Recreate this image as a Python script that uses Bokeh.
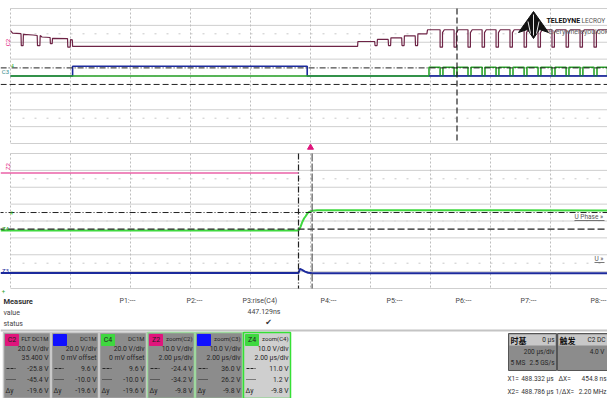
import math
from bokeh.plotting import figure
from bokeh.models import Range1d
from bokeh.core.properties import value
from bokeh.embed import file_html
from bokeh.resources import INLINE

# ---------------- data ----------------
# Main acquisition: 200 us/div, 0 us at screen centre
c2_t = [-1000, -993, -965, -964, -958, -957, -925, -911, -910, -902, -901, -895,
        -868, -867, -861, -860, -810, -809, -801, -800, -794, -793,
        157, 158, 214, 215, 222, 223, 259, 260, 267, 268, 304, 305, 312, 313,
        349, 350, 357, 358, 388, 390]
c2_v = [18.5, 15.5, 14.8, 0.5, 0.5, 14.0, 13.2, 12.6, 0.5, 0.5, 12.5, 10.8,
        10.2, 3.0, 3.0, 9.3, 9.0, -1.2, -1.2, 7.8, 7.5, -0.3,
        -0.3, 5.5, 5.5, 0.7, 0.7, 7.9, 7.9, 0.7, 0.7, 9.9, 9.9, 0.7, 0.7, 12.2,
        12.2, 0.7, 0.7, 14.6, 14.6, 19.4]
c2_dip_t = [432, 478.5, 525, 572, 618.5, 665, 712, 758.5, 805, 852, 898.5, 945]
c2_high, c2_low, c2_recover = 19.4, -1.2, 16.0
c2_dip_w = 8.0

c3_t = [-1000, -793, -793, -11, -11, 990]
c3_v = [0.0, 0.0, 11.6, 11.6, 0.0, 0.0]

c4_rise_t = [395, 441.5, 488.3, 535, 581.5, 628, 675, 721.5, 768, 815, 861.5, 908, 955]
c4_fall_t = [432, 478.5, 525, 572, 618.5, 665, 712, 758.5, 805, 852, 898.5, 945, 990]
c4_high = 10.4

# Zoom traces (2 us/div)
z2_t = [478.4, 488.33]
z2_v = [-1.0, -1.0]
z3_t = [478.4, 488.33, 488.38, 488.45, 488.55, 488.65, 488.8, 498.7]
z3_v = [0.1, 0.1, 2.6, 2.0, 1.0, 0.3, 0.0, 0.0]
z4_t = [478.4, 488.33, 488.40, 488.45, 488.52, 488.57, 488.63, 488.68, 488.79, 488.95, 489.5, 495.0, 498.7]
z4_v = [0.3, 0.3, 2.5, 5.0, 7.6, 8.8, 10.5, 11.3, 12.0, 12.3, 12.4, 12.3, 12.2]

x_cursors = [488.332, 488.786]
y_cursors_c4 = [9.6, -10.0]
y_cursors_z4 = [11.0, 1.2]

measure_rows = ["Measure", "value", "status"]
param_labels = ["P1:---", "P2:---", "P3:rise(C4)", "P4:---", "P5:---", "P6:---", "P7:---", "P8:---"]
p3_value = "447.129ns"

box_tags = ["C2", "C3", "C4", "Z2", "Z3", "Z4"]
box_head = ["FLT DC1M", "DC1M", "DC1M", "zoom(C2)", "zoom(C3)", "zoom(C4)"]
box_r1 = ["20.0 V/div", "20.0 V/div", "20.0 V/div", "10.0 V/div", "10.0 V/div", "10.0 V/div"]
box_r2 = ["35.400 V", "0 mV offset", "0 mV offset", "2.00 µs/div", "2.00 µs/div", "2.00 µs/div"]
box_r3 = ["-25.8 V", "9.6 V", "9.6 V", "-24.4 V", "36.0 V", "11.0 V"]
box_r4 = ["-45.4 V", "-10.0 V", "-10.0 V", "-34.2 V", "26.2 V", "1.2 V"]
box_r5 = ["-19.6 V", "-19.6 V", "-19.6 V", "-9.8 V", "-9.8 V", "-9.8 V"]

# ---------------- layout / style ----------------
W, H = 607, 398
LEFT, DIVX = 10, 60.0
DIVY = 16.875
TOP_Y0, TOP_Y1 = 8, 143
LOW_Y0, LOW_Y1 = 153, 288
TOP_C = (TOP_Y0 + TOP_Y1) / 2
LOW_C = (LOW_Y0 + LOW_Y1) / 2
XC = LEFT + 5 * DIVX
ZOOM_CENTER = 488.732

F = "Roboto"
CJK = "Noto Sans CJK SC"
PINK = "#e0157c"
C2DARK = "#6e2446"
BLUE = "#1c2a9c"
GREEN = "#2aa52a"
LGREEN = "#3fd83f"
GRID = "#cfcfcf"
TXT = "#262626"


def vrange(center_px, offset, vdiv):
    return Range1d(start=(center_px - H) / DIVY * vdiv - offset,
                   end=center_px / DIVY * vdiv - offset)


p = figure(width=W, height=H, x_range=Range1d(0, W), y_range=Range1d(H, 0),
           toolbar_location=None, output_backend="svg", min_border=0,
           x_axis_location=None, y_axis_location=None)
p.grid.visible = False
p.outline_line_color = None
p.background_fill_color = "white"
p.border_fill_color = "white"

p.extra_x_ranges = {
    "t_top": Range1d(start=(0 - XC) / DIVX * 200, end=(W - XC) / DIVX * 200),
    "t_zoom": Range1d(start=ZOOM_CENTER + (0 - XC) / DIVX * 2, end=ZOOM_CENTER + (W - XC) / DIVX * 2),
}
p.extra_y_ranges = {
    "v_c2": vrange(TOP_C, 35.4, 20),
    "v_c34": vrange(TOP_C, 0.0, 20),
    "v_z2": vrange(LOW_C, 29.45, 10),
    "v_z3": vrange(LOW_C, -30.96, 10),
    "v_z4": vrange(LOW_C, -5.98, 10),
}

# ---------------- graticules ----------------
for y0, y1, yc in [(TOP_Y0, TOP_Y1, TOP_C), (LOW_Y0, LOW_Y1, LOW_C)]:
    hy = [y0 + k * DIVY for k in range(9)]
    p.segment(x0=[LEFT] * len(hy), x1=[W] * len(hy), y0=hy, y1=hy, line_color=GRID, line_width=1)
    vx = [LEFT + k * DIVX for k in range(10)]
    p.segment(x0=vx, x1=vx, y0=[y0] * len(vx), y1=[y1] * len(vx), line_color="#bdbdbd",
              line_width=1, line_dash="2 2")
    rows = [yc - 2.5 * DIVY, yc + 2.5 * DIVY]
    p.segment(x0=[LEFT + 12] * 2, x1=[W] * 2, y0=rows, y1=rows, line_color="#c8c8c8",
              line_width=1, line_dash="2 10")
    p.segment(x0=[LEFT + 12], x1=[W], y0=[yc], y1=[yc], line_color="#c8c8c8", line_width=1, line_dash="1 11")

# ---------------- main traces ----------------
c4x, c4y = [-1000.0], [0.0]
for r, f in zip(c4_rise_t, c4_fall_t):
    c4x += [r, r, f, f]
    c4y += [0.0, c4_high, c4_high, 0.0]
p.line(c3_t, c3_v, x_range_name="t_top", y_range_name="v_c34", line_color=BLUE, line_width=1.6)
p.line(c4x, c4y, x_range_name="t_top", y_range_name="v_c34", line_color=GREEN, line_width=1.6)
p.line([c4_rise_t[0], 990], [0.2, 0.2], x_range_name="t_top", y_range_name="v_c34", line_color=BLUE, line_width=1)

c2x, c2y = list(c2_t), list(c2_v)
for tf in c2_dip_t:
    c2x += [tf, tf, tf + c2_dip_w, tf + c2_dip_w, tf + c2_dip_w + 6]
    c2y += [c2_high, c2_low, c2_low, c2_recover, c2_high]
c2x.append(990)
c2y.append(c2_high)
p.line(c2x, c2y, x_range_name="t_top", y_range_name="v_c2", line_color=C2DARK, line_width=1.2)

# cursors in main panel
p.line([-1033, 990], [y_cursors_c4[0]] * 2, x_range_name="t_top", y_range_name="v_c34",
       line_color="#222222", line_width=1, line_dash="6 2 1 2")
p.line([-1033, 990], [y_cursors_c4[1]] * 2, x_range_name="t_top", y_range_name="v_c34",
       line_color="#222222", line_width=1, line_dash="6 3")
p.segment(x0=[x_cursors[0]], x1=[x_cursors[0]], y0=[TOP_Y0], y1=[TOP_Y1], x_range_name="t_top",
          line_color="#222222", line_width=1.2, line_dash="6 3")

# logo (drawn over the graticule)
p.patch([518, 533, 548, 539, 533, 527], [32, 11, 32, 29, 38, 29],
        fill_color="#111111", line_color="#111111")
p.segment(x0=[527.5, 533, 538.5], x1=[530, 533, 536], y0=[21, 14, 21], y1=[33, 35, 33],
          line_color="white", line_width=0.9)
p.text(x=[546], y=[20], text=["TELEDYNE"], text_font=value(F), text_font_size="7px",
       text_font_style="bold", text_color="#111111", text_baseline="middle")
p.text(x=[581], y=[20], text=["LECROY"], text_font=value(F), text_font_size="6.5px",
       text_color="#555555", text_baseline="middle")
p.text(x=[548], y=[31], text=["Everywhereyoulook"], text_font=value(F), text_font_size="7px",
       text_color="#666666", text_baseline="middle")

# ---------------- zoom traces ----------------
p.line(z2_t, z2_v, x_range_name="t_zoom", y_range_name="v_z2", line_color=PINK, line_width=1.2)
p.line(z3_t, z3_v, x_range_name="t_zoom", y_range_name="v_z3", line_color=BLUE, line_width=2)
p.line(z4_t, z4_v, x_range_name="t_zoom", y_range_name="v_z4", line_color=LGREEN, line_width=2)

p.line([478.3, 498.7], [y_cursors_z4[0]] * 2, x_range_name="t_zoom", y_range_name="v_z4",
       line_color="#222222", line_width=1, line_dash="6 2 1 2")
p.line([478.3, 498.7], [y_cursors_z4[1]] * 2, x_range_name="t_zoom", y_range_name="v_z4",
       line_color="#222222", line_width=1.2, line_dash="7 3")
p.segment(x0=[x_cursors[0]], x1=[x_cursors[0]], y0=[LOW_Y0], y1=[LOW_Y1], x_range_name="t_zoom",
          line_color="#222222", line_width=1.2, line_dash="6 2 1 2")
p.segment(x0=[x_cursors[1]], x1=[x_cursors[1]], y0=[LOW_Y0], y1=[LOW_Y1], x_range_name="t_zoom",
          line_color="#555555", line_width=1.2, line_dash="8 2")
p.scatter(x=[ZOOM_CENTER], y=[147], x_range_name="t_zoom", marker="triangle", size=6,
          fill_color=PINK, line_color=PINK)

# channel markers
p.text(x=[7], y=[42], text=["C2"], angle=math.pi / 2, text_font=value(F), text_font_size="6px",
       text_color=PINK, text_align="center", text_baseline="middle")
p.text(x=[5], y=[71], text=["C3"], text_font=value(F), text_font_size="6px",
       text_color="#2a8a8a", text_align="center", text_baseline="middle")
p.text(x=[12], y=[65], text=["4"], text_font=value(F), text_font_size="5px",
       text_color=GREEN, text_align="center", text_baseline="middle")
p.text(x=[7], y=[166], text=["Z2"], angle=math.pi / 2, text_font=value(F), text_font_size="6px",
       text_color=PINK, text_align="center", text_baseline="middle")
p.text(x=[11], y=[212], text=["4"], text_font=value(F), text_font_size="5px",
       text_color=LGREEN, text_align="center", text_baseline="middle")
p.text(x=[5], y=[228], text=["Z4"], text_font=value(F), text_font_size="6px",
       text_color=GREEN, text_align="center", text_baseline="middle")
p.text(x=[5], y=[270], text=["Z3"], text_font=value(F), text_font_size="6px",
       text_color=BLUE, text_align="center", text_baseline="middle")
p.text(x=[3], y=[290], text=["+"], text_font=value(F), text_font_size="6px",
       text_color=GREEN, text_align="center", text_baseline="middle")
p.text(x=[574, 594], y=[216, 258], text=["U Phase »", "U »"], text_font=value(F),
       text_font_size="6.5px", text_color="#555555", text_align="left", text_baseline="middle")
p.segment(x0=[574, 594], x1=[604, 604], y0=[220, 262], y1=[220, 262], line_color="#555555", line_width=0.8)

# ---------------- measure table ----------------
p.text(x=[3], y=[301], text=[measure_rows[0]], text_font=value(F), text_font_size="7.5px",
       text_font_style="bold", text_color="#333333", text_baseline="middle")
p.text(x=[3] * 2, y=[312, 323], text=measure_rows[1:], text_font=value(F), text_font_size="7px",
       text_color="#444444", text_baseline="middle")
p.text(x=[119, 186, 242, 320, 386, 455, 520, 590], y=[300] * 8, text=param_labels, text_font=value(F),
       text_font_size="7px", text_color="#444444", text_baseline="middle")
p.text(x=[247], y=[311], text=[p3_value], text_font=value(F), text_font_size="7px",
       text_color="#444444", text_baseline="middle")
p.text(x=[268], y=[322], text=["✔"], text_font=value("DejaVu Sans"), text_font_size="8px",
       text_color="#333333", text_align="center", text_baseline="middle")
p.segment(x0=[0], x1=[W], y0=[330], y1=[330], line_color="#c4c4c4", line_width=2)

# ---------------- channel boxes ----------------
BL = [3, 51, 99, 147, 195, 243]
BW = 47
tag_col = [PINK, "#1010ff", LGREEN, PINK, "#1010ff", LGREEN]
box_fill = ["#8c8c8c"] * 5 + ["#cfcfcf"]
box_edge = ["#c9c9c9", "#c9c9c9", "#c9c9c9", "#9ed89e", "#9ed89e", "#35e035"]
p.quad(left=BL, right=[b + BW for b in BL], top=[332] * 6, bottom=[398] * 6,
       fill_color=box_fill, line_color=box_edge, line_width=1.5)
p.quad(left=[b + 2 for b in BL], right=[b + 15 for b in BL], top=[334] * 6, bottom=[345] * 6,
       fill_color=tag_col, line_color=tag_col)
p.text(x=[b + 8.5 for b in BL], y=[339.5] * 6, text=box_tags, text_font=value(F), text_font_size="7px",
       text_color=["#222222", "#1010ff", "#222222", "#222222", "#1010ff", "#222222"],
       text_align="center", text_baseline="middle")
p.text(x=[b + BW - 2 for b in BL], y=[338] * 6, text=box_head, text_font=value(F), text_font_size="6px",
       text_color=TXT, text_align="right", text_baseline="middle")
for rows, yy in [(box_r1, 348), (box_r2, 357), (box_r3, 368), (box_r4, 379), (box_r5, 390)]:
    p.text(x=[b + BW - 2 for b in BL], y=[yy] * 6, text=rows, text_font=value(F), text_font_size="6.8px",
           text_color=TXT, text_align="right", text_baseline="middle")
p.segment(x0=[b + 3 for b in BL], x1=[b + 12 for b in BL], y0=[368] * 6, y1=[368] * 6,
          line_color=TXT, line_width=1, line_dash="3 1")
p.segment(x0=[b + 3 for b in BL], x1=[b + 12 for b in BL], y0=[379] * 6, y1=[379] * 6,
          line_color=TXT, line_width=1, line_dash="1 1")
p.text(x=[b + 2 for b in BL], y=[390] * 6, text=["Δy"] * 6, text_font=value(F), text_font_size="6.8px",
       text_color=TXT, text_baseline="middle")

# ---------------- timebase / trigger ----------------
p.quad(left=[508, 557], right=[556, 608], top=[333, 333], bottom=[370, 370],
       fill_color="#8c8c8c", line_color="#555555", line_width=1)
p.quad(left=[509, 558], right=[555, 607], top=[334, 334], bottom=[345, 345],
       fill_color="#c8c8c8", line_color=None)
p.text(x=[510, 559], y=[339.5, 339.5], text=["时基", "触发"], text_font=value(CJK), text_font_size="8px",
       text_font_style="bold", text_color="#111111", text_baseline="middle")
p.text(x=[554, 554, 554, 605, 604], y=[339, 351, 362, 339, 351],
       text=["0 µs", "200 µs/div", "2.5 GS/s", "C2 DC", "4.0 V"], text_font=value(F),
       text_font_size="6.5px", text_color=TXT, text_align="right", text_baseline="middle")
p.text(x=[510], y=[362], text=["5 MS"], text_font=value(F), text_font_size="6.5px",
       text_color=TXT, text_baseline="middle")
p.text(x=[507, 507, 558, 555], y=[378, 391, 378, 391], text=["X1=", "X2=", "ΔX=", "1/ΔX="],
       text_font=value(F), text_font_size="6.5px", text_color="#333333", text_baseline="middle")
p.text(x=[553, 553, 606, 606], y=[378, 391, 378, 391],
       text=["488.332 µs", "488.786 µs", "454.8 ns", "2.20 MHz"],
       text_font=value(F), text_font_size="6.5px", text_color="#333333", text_align="right",
       text_baseline="middle")

open("out.html", "w").write(file_html(p, INLINE))
